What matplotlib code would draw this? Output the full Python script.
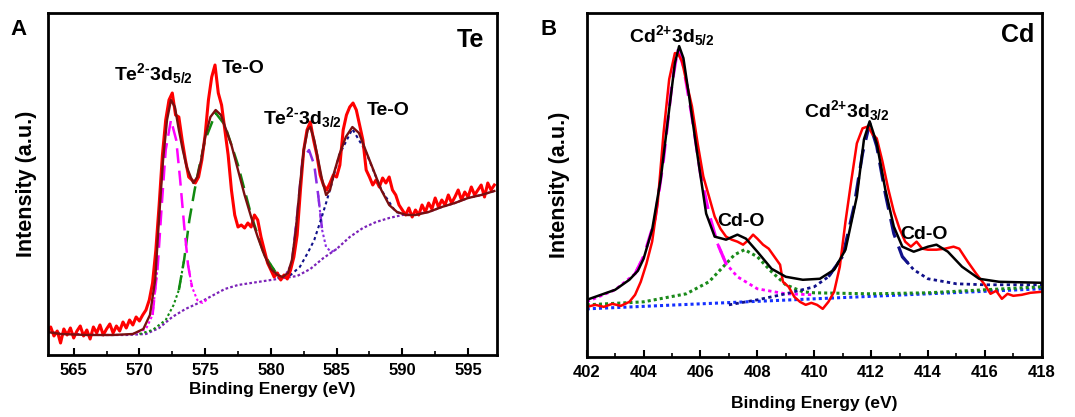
"""XPS high-resolution spectra: Te 3d (A) and Cd 3d (B) with peak fitting"""

import numpy as np
import matplotlib
matplotlib.use("Agg")
import matplotlib.pyplot as plt
from matplotlib.ticker import MultipleLocator

plt.rcParams["font.family"] = ["Liberation Sans", "DejaVu Sans"]
plt.rcParams["font.weight"] = "bold"
plt.rcParams["mathtext.fontset"] = "custom"
plt.rcParams["mathtext.rm"] = "Liberation Sans:bold"
plt.rcParams["mathtext.bf"] = "Liberation Sans:bold"
plt.rcParams["mathtext.it"] = "Liberation Sans:bold"
plt.rcParams["mathtext.default"] = "bf"

# ---------------- Te 3d data (panel A) ----------------
te_ticks = [565, 570, 575, 580, 585, 590, 595]
te_energy = np.arange(563.0, 597.01, 0.25)
te_raw = [
    23, 28, 19, 24, 12, 26, 20, 27, 17, 24, 29, 19, 25, 16, 28, 22,
    30, 20, 26, 31, 22, 29, 24, 33, 27, 35, 30, 38, 34, 40, 45, 55,
    72, 105, 150, 200, 235, 255, 262, 240, 238, 215, 195, 178, 175, 172,
    178, 195, 220, 255, 278, 290, 262, 250, 225, 200, 165, 140, 128, 130,
    127, 132, 128, 140, 135, 118, 105, 92, 85, 78, 82, 75, 80, 76,
    85, 98, 120, 165, 205, 225, 233, 215, 200, 180, 170, 165, 172, 180,
    178, 190, 225, 240, 248, 252, 245, 230, 215, 185, 178, 170, 175, 168,
    177, 172, 178, 165, 160, 150, 145, 140, 147, 138, 145, 140, 150, 143,
    152, 146, 157, 148, 155, 150, 160, 152, 158, 165, 155, 163, 158, 168,
    160, 165, 170, 158, 172, 165, 170,
]

te_fit_x = [563, 564, 566, 568, 569.5, 570.3, 570.8, 571.2, 571.5, 571.8,
            572.1, 572.4, 572.7, 573.0, 573.3, 573.6, 573.9, 574.1, 574.4,
            574.7, 575.0, 575.4, 575.8, 576.2, 576.6, 577.0, 577.5, 578.0,
            578.5, 579.0, 579.5, 580.0, 580.5, 580.9, 581.3, 581.6, 581.9,
            582.2, 582.5, 582.8, 583.0, 583.3, 583.6, 583.9, 584.2, 584.5,
            584.8, 585.2, 585.7, 586.2, 586.7, 587.2, 587.8, 588.4, 589.0,
            589.6, 590.3, 591.0, 592.0, 593.0, 594.0, 595.0, 596.0, 597.0]
te_fit_y = [23, 21, 20, 20, 21, 26, 40, 75, 138, 195,
            235, 255, 248, 225, 205, 188, 178, 172, 178,
            195, 218, 238, 245, 240, 225, 210, 185, 160,
            138, 118, 100, 86, 80, 78, 82, 95, 125,
            168, 205, 225, 228, 215, 195, 175, 160, 165,
            182, 200, 218, 228, 222, 205, 185, 165, 150,
            143, 140, 140, 143, 148, 152, 157, 160, 164]

te_bg_x = [563, 565, 567, 569, 570.5, 571.5, 572.5, 573.5, 574.5, 575.5,
           576.5, 577.5, 579, 580.5, 582, 583, 584, 585, 586, 587, 588,
           589, 590, 591, 592, 593, 594, 595, 596, 597]
te_bg_y = [23, 21, 20, 20, 21, 27, 38, 46, 52, 59,
           66, 70, 73, 76, 79, 86, 97, 106, 118, 127, 133,
           137, 140, 141, 143, 148, 152, 157, 160, 164]

# Te(2-) 3d5/2 component
te_p1_x = [569.5, 570.5, 571.0, 571.4, 571.7, 572.0, 572.4, 572.8, 573.1,
           573.4, 573.7, 574.0, 574.4, 574.8, 575.2]
te_p1_y = [21, 26, 40, 90, 150, 205, 235, 215, 175, 130, 90, 68, 55, 52, 56]
# Te-O component (3d5/2)
te_p2_x = [570.0, 571.0, 572.0, 572.6, 573.0, 573.4, 573.8, 574.2, 574.5,
           575.0, 575.8, 576.5, 577.5, 578.5, 579.5, 580.5]
te_p2_y = [21, 25, 35, 50, 65, 95, 135, 165, 185, 215, 242, 230, 190, 140,
           100, 80]
# Te(2-) 3d3/2 component
te_p3_x = [581.0, 581.6, 582.0, 582.4, 582.9, 583.3, 583.6, 583.9, 584.2,
           584.6, 585.0]
te_p3_y = [77, 92, 140, 195, 205, 190, 160, 125, 108, 103, 106]
# Te-O component (3d3/2)
te_p4_x = [580.5, 581.5, 582.2, 582.8, 583.3, 583.8, 584.2, 584.6, 585.2,
           586.2, 587.2, 588.4, 589.5, 590.5]
te_p4_y = [77, 80, 88, 102, 115, 135, 152, 170, 200, 226, 204, 165, 143, 140]

# ---------------- Cd 3d data (panel B) ----------------
cd_ticks = [402, 404, 406, 408, 410, 412, 414, 416, 418]
cd_raw_x = [402.0, 402.3, 402.6, 402.9, 403.2, 403.5, 403.7, 403.9, 404.1,
            404.3, 404.5, 404.7, 404.9, 405.1, 405.2, 405.35, 405.5, 405.7,
            405.9, 406.1, 406.3, 406.5, 406.7, 406.9, 407.1, 407.3, 407.5,
            407.7, 407.85, 408.0, 408.2, 408.4, 408.6, 408.8, 408.9, 409.1,
            409.3, 409.5, 409.7, 409.9, 410.1, 410.3, 410.5, 410.7, 410.9,
            411.1, 411.3, 411.5, 411.7, 411.9, 412.05, 412.2, 412.4, 412.6,
            412.8, 413.0, 413.2, 413.4, 413.6, 413.8, 414.0, 414.3, 414.6,
            414.9, 415.1, 415.4, 415.7, 416.0, 416.2, 416.4, 416.6, 416.8,
            417.0, 417.3, 417.6, 418.0]
cd_raw_y = [50, 52, 50, 53, 51, 55, 62, 75, 93,
            115, 155, 223, 277, 303, 303, 295, 275, 250,
            213, 180, 160, 140, 128, 120, 117, 115, 112,
            117, 122, 118, 112, 108, 100, 92, 75, 70,
            60, 55, 52, 54, 52, 48, 55, 65, 90,
            135, 175, 213, 228, 230, 222, 218, 195, 168,
            145, 128, 115, 110, 115, 108, 107, 107, 108,
            110, 108, 95, 83, 72, 63, 66, 58, 63,
            61, 62, 64, 65]

cd_fit_x = [402.0, 402.5, 403.0, 403.5, 403.8, 404.0, 404.3, 404.6, 404.9,
            405.1, 405.25, 405.4, 405.6, 405.9, 406.2, 406.5, 406.9, 407.3,
            407.6, 408.0, 408.5, 409.0, 409.6, 410.2, 410.7, 411.1, 411.5,
            411.75, 411.95, 412.2, 412.5, 412.8, 413.1, 413.5, 414.0, 414.3,
            414.7, 415.2, 415.8, 416.5, 418.0]
cd_fit_y = [57, 62, 67, 77, 86, 98, 127, 177, 247,
            293, 310, 298, 260, 200, 143, 120, 117, 122,
            118, 105, 88, 80, 77, 78, 87, 107, 160,
            217, 235, 213, 167, 130, 110, 105, 110, 112,
            105, 90, 78, 75, 74]

# Cd(2+) 3d5/2 component
cd_p1_x = [402, 403, 403.7, 404.0, 404.4, 404.7, 405.0, 405.2, 405.4, 405.7,
           406.0, 406.3, 406.6, 406.9, 407.3, 408.0, 409.0, 410.0]
cd_p1_y = [55, 67, 83, 100, 137, 197, 273, 307, 290, 240,
           183, 143, 113, 93, 80, 68, 63, 62]
# Cd-O component
cd_p2_x = [402, 404, 405.5, 406.3, 406.8, 407.2, 407.55, 408.0, 408.5, 409.0,
           409.6, 410.0, 412, 414, 416, 418]
cd_p2_y = [52, 55, 63, 75, 90, 102, 107, 100, 85, 72, 65, 64, 63, 64, 67, 70]
# background
cd_bg_x = [402, 410, 418]
cd_bg_y = [48, 58, 68]
# Cd(2+) 3d3/2 component
cd_p3_x = [407, 408, 409, 410, 410.5, 411.0, 411.4, 411.7, 411.95, 412.2,
           412.5, 412.8, 413.1, 413.5, 414.0, 415.0, 416.0, 418.0]
cd_p3_y = [52, 57, 63, 70, 80, 100, 150, 203, 233, 210,
           163, 123, 100, 87, 78, 73, 72, 72]


def split_plot(ax, x, y, cut, color, lw=1.5):
    """Draw the upper part of a component dashed and its tails dotted"""
    x = np.asarray(x, dtype=float)
    y = np.asarray(y, dtype=float)
    high = y >= cut
    low = ~high
    # keep the neighbouring point so both pieces join up
    low_keep = low | np.r_[low[1:], False] | np.r_[False, low[:-1]]
    high_keep = high | np.r_[high[1:], False] | np.r_[False, high[:-1]]
    ax.plot(x, np.where(low_keep, y, np.nan), color=color, lw=lw,
            ls=(0, (1.2, 1.2)))
    ax.plot(x, np.where(high_keep, y, np.nan), color=color, lw=lw + 0.3,
            ls=(0, (6, 3)))


def style_axes(ax, xlim, ticks, minor, ylim):
    ax.set_xlim(*xlim)
    ax.set_ylim(*ylim)
    ax.set_yticks([])
    ax.set_xticks(ticks)
    ax.set_xticklabels([str(t) for t in ticks], fontsize=12,
                       fontweight="bold")
    ax.xaxis.set_minor_locator(MultipleLocator(minor))
    ax.tick_params(axis="x", which="major", direction="in", length=5,
                   width=1.5, pad=6)
    ax.tick_params(axis="x", which="minor", direction="in", length=3,
                   width=1.2)
    for sp in ax.spines.values():
        sp.set_linewidth(2)


fig = plt.figure(figsize=(10.75, 4.17), dpi=100)
ax_a = fig.add_axes([0.0447, 0.1487, 0.4176, 0.8201])
ax_b = fig.add_axes([0.5458, 0.1439, 0.4232, 0.8249])

# ---- panel A ----
ax_a.plot(te_bg_x, te_bg_y, color="#7b22b8", lw=1.6, ls=(0, (1.2, 1.0)))
split_plot(ax_a, te_p2_x, te_p2_y, 90, "#108a10")
split_plot(ax_a, te_p1_x, te_p1_y, 80, "#ff00ff")
split_plot(ax_a, te_p3_x, te_p3_y, 140, "#8a2be2")
ax_a.plot(te_p4_x, te_p4_y, color="#10108a", lw=1.5, ls=(0, (1.5, 1.5)))
ax_a.plot(te_energy, te_raw, color="#ff0000", lw=2.2)
ax_a.plot(te_fit_x, te_fit_y, color="#7a0f0f", lw=1.7)
style_axes(ax_a, (563.05, 597.2), te_ticks, 2.5, (0, 342))
ax_a.set_xlabel("Binding Energy (eV)", fontsize=12.5, fontweight="bold",
                labelpad=3)
ax_a.set_ylabel("Intensity (a.u.)", fontsize=15.5, fontweight="bold",
                labelpad=8)

lab = dict(fontsize=14, fontweight="bold", va="baseline")
ax_a.text(568.1, 275, r"Te$^{2\text{-}}$3d$_{5/2}$", **lab)
ax_a.text(576.25, 282, "Te-O", **lab)
ax_a.text(579.4, 231, r"Te$^{2\text{-}}$3d$_{3/2}$", **lab)
ax_a.text(587.3, 240, "Te-O", **lab)
ax_a.text(596.2, 308, "Te", fontsize=18, fontweight="bold", ha="right",
          va="baseline")

# ---- panel B ----
ax_b.plot(cd_bg_x, cd_bg_y, color="#1530ff", lw=2.2, ls=(0, (1.0, 1.0)))
ax_b.plot(cd_p2_x, cd_p2_y, color="#1a8a1a", lw=2.2, ls=(0, (1.0, 1.0)))
split_plot(ax_b, cd_p1_x, cd_p1_y, 95, "#ff00ff", lw=2)
split_plot(ax_b, cd_p3_x, cd_p3_y, 95, "#10108a", lw=2)
ax_b.plot(cd_raw_x, cd_raw_y, color="#ff0000", lw=1.8)
ax_b.plot(cd_fit_x, cd_fit_y, color="black", lw=1.8)
style_axes(ax_b, (402, 418), cd_ticks, 1, (0, 343))
ax_b.set_xlabel("Binding Energy (eV)", fontsize=12.5, fontweight="bold",
                labelpad=11)
ax_b.set_ylabel("Intensity (a.u.)", fontsize=15.5, fontweight="bold",
                labelpad=12)

ax_b.text(403.47, 314, r"Cd$^{2\text{+}}$3d$_{5/2}$", **lab)
ax_b.text(409.63, 239, r"Cd$^{2\text{+}}$3d$_{3/2}$", **lab)
ax_b.text(406.6, 131, "Cd-O", **lab)
ax_b.text(413.03, 118, "Cd-O", **lab)
ax_b.text(417.73, 314, "Cd", fontsize=18, fontweight="bold", ha="right",
          va="baseline")

fig.text(0.010, 1 - 35 / 417, "A", fontsize=16, fontweight="bold",
         va="baseline")
fig.text(0.503, 1 - 35 / 417, "B", fontsize=16, fontweight="bold",
         va="baseline")

fig.savefig("out.png", dpi=100)
